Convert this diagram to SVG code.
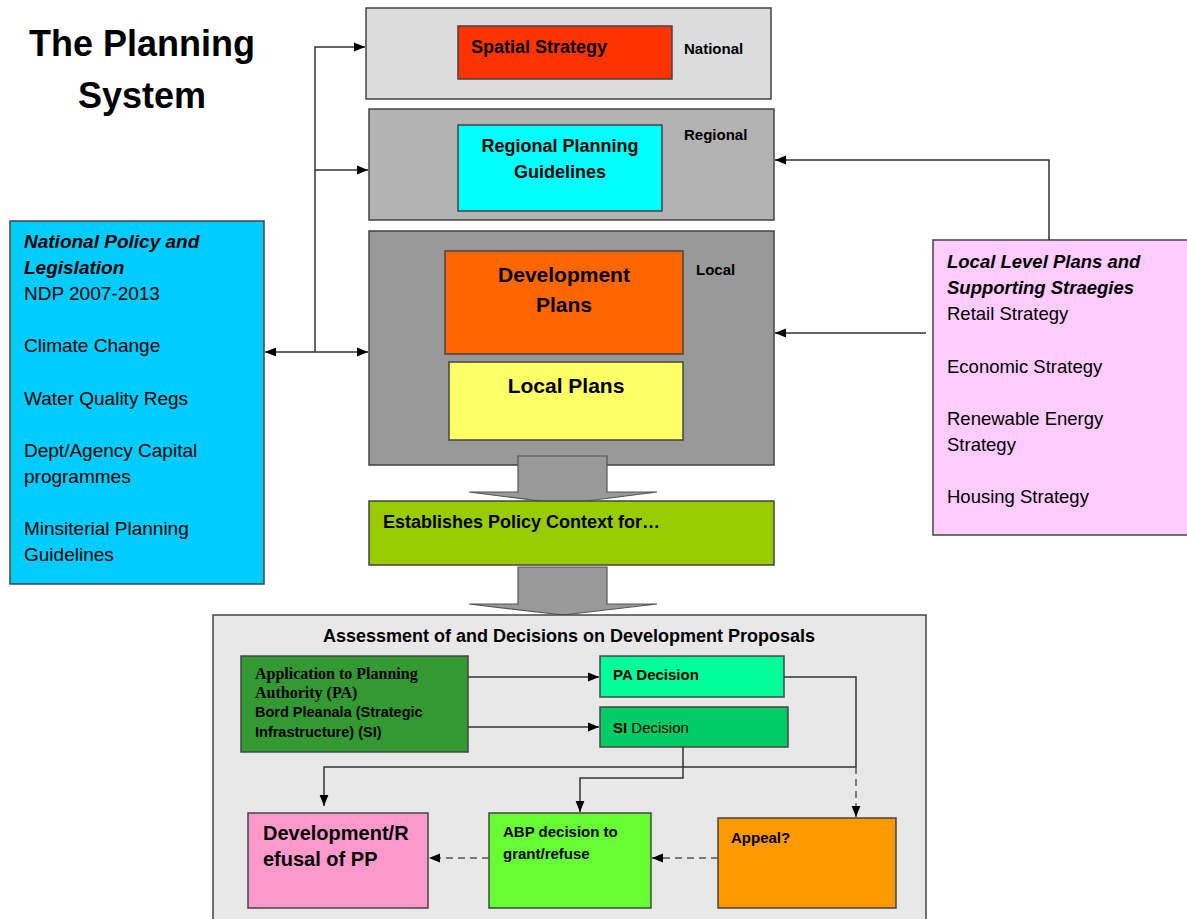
<svg xmlns="http://www.w3.org/2000/svg" width="1187" height="919" viewBox="0 0 1187 919">
<defs>
<style>
.box{stroke:#444;stroke-width:1.5}
.t{font-family:"Liberation Sans",Arial,sans-serif;fill:#000}
.b{font-weight:bold}
.bi{font-weight:bold;font-style:italic}
.ln{fill:none;stroke:#333;stroke-width:1.5}
.dash{fill:none;stroke:#555;stroke-width:1.5;stroke-dasharray:7 5}
.blk{fill:#999;stroke:#555;stroke-width:1.2}
</style>
<marker id="ah" markerWidth="11" markerHeight="11" viewBox="0 0 10 10" refX="10" refY="5" orient="auto" markerUnits="userSpaceOnUse">
<path d="M0,1 L10,5 L0,9 Z" fill="#000"/>
</marker>
<marker id="as" markerWidth="11" markerHeight="11" viewBox="0 0 10 10" refX="0" refY="5" orient="auto" markerUnits="userSpaceOnUse">
<path d="M10,1 L0,5 L10,9 Z" fill="#000"/>
</marker>
</defs>
<rect width="1187" height="919" fill="#fff"/>

<g id="title">
<text class="t b" x="142" y="56" font-size="36" text-anchor="middle">The Planning</text>
<text class="t b" x="142" y="108" font-size="36" text-anchor="middle">System</text>
</g>

<g id="national">
<rect class="box" x="366" y="8" width="405" height="91" fill="#dcdcdc"/>
<text class="t b" x="684" y="54" font-size="15">National</text>
</g>
<g id="spatial-strategy">
<rect class="box" x="458" y="26" width="214" height="53" fill="#ff3300"/>
<text class="t b" x="471" y="53" font-size="18">Spatial Strategy</text>
</g>

<g id="regional">
<rect class="box" x="369" y="109" width="405" height="111" fill="#b3b3b3"/>
<text class="t b" x="684" y="140" font-size="15">Regional</text>
</g>
<g id="rpg">
<rect class="box" x="458" y="125" width="204" height="86" fill="#00ffff"/>
<text class="t b" x="560" y="152" font-size="18" text-anchor="middle">Regional Planning</text>
<text class="t b" x="560" y="178" font-size="18" text-anchor="middle">Guidelines</text>
</g>

<g id="local">
<rect class="box" x="369" y="231" width="405" height="234" fill="#999999"/>
<text class="t b" x="696" y="275" font-size="15">Local</text>
</g>
<g id="development-plans">
<rect class="box" x="445" y="251" width="238" height="103" fill="#ff6600"/>
<text class="t b" x="564" y="282" font-size="21" text-anchor="middle">Development</text>
<text class="t b" x="564" y="312" font-size="21" text-anchor="middle">Plans</text>
</g>
<g id="local-plans">
<rect class="box" x="449" y="362" width="234" height="78" fill="#ffff66"/>
<text class="t b" x="566" y="393" font-size="21" text-anchor="middle">Local Plans</text>
</g>

<g id="block-arrow-1">
<path class="blk" d="M518,456 L607,456 L607,492 L657,492 L563,504 L469,492 L518,492 Z"/>
</g>

<g id="policy-context">
<rect class="box" x="369" y="501" width="405" height="64" fill="#99cc00"/>
<text class="t b" x="383" y="528" font-size="18">Establishes Policy Context for…</text>
</g>

<g id="block-arrow-2">
<path class="blk" d="M518,567 L607,567 L607,604 L657,604 L563,615 L469,604 L518,604 Z"/>
</g>

<g id="national-policy">
<rect class="box" x="10" y="221" width="254" height="363" fill="#00ccff"/>
<text class="t" x="24" font-size="19">
<tspan class="bi" x="24" y="248">National Policy and</tspan>
<tspan class="bi" x="24" y="274">Legislation</tspan>
<tspan x="24" y="300">NDP 2007-2013</tspan>
<tspan x="24" y="352">Climate Change</tspan>
<tspan x="24" y="405">Water Quality Regs</tspan>
<tspan x="24" y="457">Dept/Agency Capital</tspan>
<tspan x="24" y="483">programmes</tspan>
<tspan x="24" y="535">Minsiterial Planning</tspan>
<tspan x="24" y="561">Guidelines</tspan>
</text>
</g>

<g id="local-level-plans">
<rect class="box" x="933" y="240" width="260" height="295" fill="#ffccff"/>
<text class="t" x="947" font-size="18.5">
<tspan class="bi" x="947" y="268">Local Level Plans and</tspan>
<tspan class="bi" x="947" y="294">Supporting Straegies</tspan>
<tspan x="947" y="320">Retail Strategy</tspan>
<tspan x="947" y="373">Economic Strategy</tspan>
<tspan x="947" y="425">Renewable Energy</tspan>
<tspan x="947" y="451">Strategy</tspan>
<tspan x="947" y="503">Housing Strategy</tspan>
</text>
</g>

<g id="assessment">
<rect class="box" x="213" y="615" width="713" height="320" fill="#e8e8e8"/>
<text class="t b" x="569" y="642" font-size="18" text-anchor="middle">Assessment of and Decisions on Development Proposals</text>
</g>

<g id="application">
<rect class="box" x="241" y="656" width="227" height="96" fill="#339933"/>
<text x="255" y="679" font-size="16" font-weight="bold" font-family="'Liberation Serif','Times New Roman',serif">Application to Planning</text>
<text x="255" y="698" font-size="16" font-weight="bold" font-family="'Liberation Serif','Times New Roman',serif">Authority (PA)</text>
<text class="t b" x="255" y="717" font-size="14.5">Bord Pleanala (Strategic</text>
<text class="t b" x="255" y="737" font-size="14.5">Infrastructure) (SI)</text>
</g>

<g id="pa-decision">
<rect class="box" x="600" y="656" width="184" height="41" fill="#00ff99"/>
<text class="t b" x="613" y="680" font-size="15">PA Decision</text>
</g>
<g id="si-decision">
<rect class="box" x="600" y="707" width="188" height="40" fill="#00cc66"/>
<text class="t" x="613" y="733" font-size="15"><tspan class="b">SI</tspan>  Decision</text>
</g>

<g id="dev-refusal">
<rect class="box" x="248" y="813" width="180" height="95" fill="#ff99cc"/>
<text class="t b" x="263" y="840" font-size="20">Development/R</text>
<text class="t b" x="263" y="866" font-size="20">efusal of PP</text>
</g>
<g id="abp-decision">
<rect class="box" x="489" y="813" width="162" height="95" fill="#66ff33"/>
<text class="t b" x="503" y="837" font-size="15">ABP decision to</text>
<text class="t b" x="503" y="859" font-size="15">grant/refuse</text>
</g>
<g id="appeal">
<rect class="box" x="718" y="818" width="178" height="90" fill="#ff9900"/>
<text class="t b" x="731" y="843" font-size="15">Appeal?</text>
</g>

<g id="connectors">
<path class="ln" d="M315,352 L315,47 L365,47" marker-end="url(#ah)"/>
<path class="ln" d="M315,170 L368,170" marker-end="url(#ah)"/>
<path class="ln" d="M265,352 L368,352" marker-start="url(#as)" marker-end="url(#ah)"/>
<path class="ln" d="M1049,240 L1049,160 L775,160" marker-end="url(#ah)"/>
<path class="ln" d="M926,333 L775,333" marker-end="url(#ah)"/>
<path class="ln" d="M468,677 L599,677" marker-end="url(#ah)"/>
<path class="ln" d="M468,727 L599,727" marker-end="url(#ah)"/>
<path class="ln" d="M784,677 L856,677 L856,767 L324,767 L324,806" marker-end="url(#ah)"/>
<path class="ln" d="M683,747 L683,778 L580,778 L580,812" marker-end="url(#ah)"/>
<path class="dash" d="M856,767 L856,817" marker-end="url(#ah)"/>
<path class="dash" d="M718,858 L652,858" marker-end="url(#ah)"/>
<path class="dash" d="M489,858 L429,858" marker-end="url(#ah)"/>
</g>
</svg>
